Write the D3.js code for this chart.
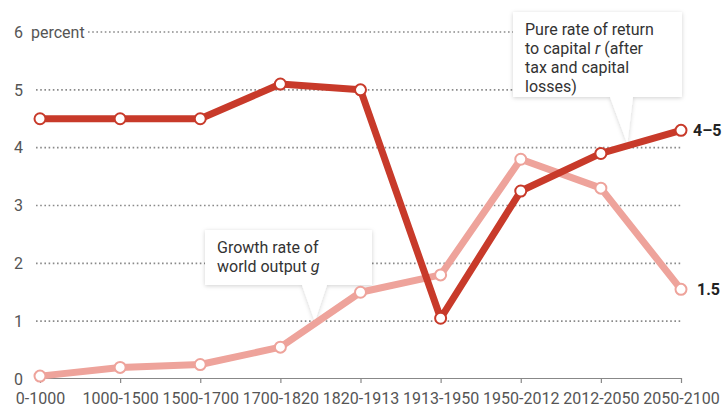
<!DOCTYPE html>
<html>
<head>
<meta charset="utf-8">
<script src="https://cdn.jsdelivr.net/npm/d3@7"></script>
<style>
html,body{margin:0;padding:0;background:#fff;}
svg{display:block;font-family:Roboto, "Open Sans", sans-serif;}
</style>
</head>
<body>
<svg id="chart" width="727" height="410"></svg>
<script>
const categories = ["0-1000","1000-1500","1500-1700","1700-1820","1820-1913","1913-1950","1950-2012","2012-2050","2050-2100"];
const rValues = [4.5, 4.5, 4.5, 5.1, 5.0, 1.05, 3.25, 3.9, 4.3];
const gValues = [0.05, 0.2, 0.25, 0.55, 1.5, 1.8, 3.8, 3.3, 1.55];
const yTicks = [0, 1, 2, 3, 4, 5, 6];
const rEndLabel = "4–5";
const gEndLabel = "1.5";

const svg = d3.select("#chart");
const x = d3.scalePoint().domain(categories).range([40, 681]);
const y = d3.scaleLinear().domain([0, 6]).range([379, 32]);

const darkRed = "#c83a2a";
const pink = "#eea39b";

// defs: shadow
const defs = svg.append("defs");
const f = defs.append("filter").attr("id","shadow").attr("x","-20%").attr("y","-20%").attr("width","140%").attr("height","150%");
f.append("feDropShadow").attr("dx",0).attr("dy",1).attr("stdDeviation",2).attr("flood-color","#000").attr("flood-opacity",0.18);

// gridlines
const grid = svg.append("g");
yTicks.filter(d => d > 0).forEach(d => {
  grid.append("line")
    .attr("x1", d === 6 ? 88 : 36).attr("x2", 681)
    .attr("y1", y(d)).attr("y2", y(d))
    .attr("stroke", "#8a8a8a").attr("stroke-width", 1.6)
    .attr("stroke-dasharray", "1.6,2.6");
});

// y labels
yTicks.forEach(d => {
  svg.append("text").attr("x", 14).attr("y", y(d)).attr("dy", "0.36em")
    .attr("font-size", 16).attr("fill", "#555").text(d);
});
svg.append("text").attr("x", 31).attr("y", y(6)).attr("dy", "0.36em")
  .attr("font-size", 16).attr("fill", "#555").text("percent");

// x axis
const xAxis = d3.axisBottom(x).tickSizeInner(5).tickSizeOuter(0).tickPadding(10);
const ax = svg.append("g").attr("transform", `translate(0,${y(0) - 1})`).call(xAxis);
ax.select(".domain").attr("stroke", "#888").attr("stroke-width", 1.2);
ax.selectAll(".tick line").attr("stroke", "#888").attr("stroke-width", 1.2);
ax.selectAll(".tick text").attr("font-size", 16).attr("fill", "#555")
  .attr("font-family", "Roboto, sans-serif");

// helper: interpolate along series
function along(values, i, t) {
  const x0 = x(categories[i]), x1 = x(categories[i+1]);
  const v = values[i] + (values[i+1] - values[i]) * t;
  return [x0 + (x1 - x0) * t, y(v)];
}

// callout builder
function callout(box, base, apex, lines) {
  const [bx, by, bw, bh] = box;
  const p = d3.path();
  p.moveTo(bx, by);
  p.lineTo(bx + bw, by);
  p.lineTo(bx + bw, by + bh);
  p.lineTo(base[1], by + bh);
  p.lineTo(apex[0], apex[1]);
  p.lineTo(base[0], by + bh);
  p.lineTo(bx, by + bh);
  p.closePath();
  svg.append("path").attr("d", p.toString()).attr("fill", "#fff").attr("filter", "url(#shadow)");
  const t = svg.append("text").attr("font-size", 16).attr("fill", "#333");
  lines.forEach((ln, k) => {
    const ts = t.append("tspan").attr("x", bx + 12).attr("y", by + 23 + k * 19);
    ln.forEach(seg => {
      const s = ts.append("tspan").text(seg.t);
      if (seg.i) s.attr("font-style", "italic");
    });
  });
}

// lines
const line = d3.line().x((d, i) => x(categories[i])).y(d => y(d));

// callouts (drawn before the lines)
const rApex = along(rValues, 7, 0.33);
callout([513, 12, 169, 85], [610, 633], [rApex[0], rApex[1] - 2], [
  [{t: "Pure rate of return"}],
  [{t: "to capital "}, {t: "r", i: true}, {t: " (after"}],
  [{t: "tax and capital"}],
  [{t: "losses)"}]
]);
const gApex = along(gValues, 3, 0.43);
callout([205, 230, 167, 55], [302, 327], [gApex[0], gApex[1] - 2], [
  [{t: "Growth rate of"}],
  [{t: "world output "}, {t: "g", i: true}]
]);

function drawSeries(values, color) {
  svg.append("path").datum(values).attr("d", line)
    .attr("fill", "none").attr("stroke", color).attr("stroke-width", 7)
    .attr("stroke-linejoin", "round");
  svg.append("g").selectAll("circle").data(values).join("circle")
    .attr("cx", (d, i) => x(categories[i])).attr("cy", d => y(d))
    .attr("r", 5.5).attr("fill", "#fff").attr("stroke", color).attr("stroke-width", 2);
}
drawSeries(gValues, pink);
drawSeries(rValues, darkRed);

// end labels
svg.append("text").attr("x", x(categories[8]) + 12).attr("y", y(rValues[8])).attr("dy", "0.36em")
  .attr("font-size", 16).attr("font-weight", "bold").attr("fill", "#222").text(rEndLabel);
svg.append("text").attr("x", x(categories[8]) + 16).attr("y", y(gValues[8])).attr("dy", "0.36em")
  .attr("font-size", 16).attr("font-weight", "bold").attr("fill", "#222").text(gEndLabel);
</script>
</body>
</html>
